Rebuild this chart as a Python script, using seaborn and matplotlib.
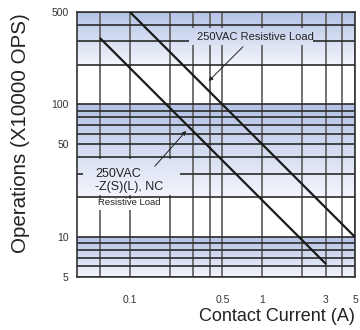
import numpy as np
import pandas as pd
import matplotlib
matplotlib.use('Agg')
import matplotlib.pyplot as plt
from matplotlib.colors import to_rgb
from matplotlib.patches import Rectangle
import seaborn as sns

# 수명 곡선 데이터
current_res = [0.1, 5]          # 250VAC Resistive Load
ops_res = [500, 10]
current_nc = [0.06, 3]          # 250VAC -Z(S)(L), NC Resistive Load
ops_nc = [315, 6.3]

x_ticks = [0.1, 0.5, 1, 3, 5]
x_ticklabels = ['0.1', '0.5', '1', '3', '5']
x_minor = [0.06, 0.2, 0.3, 0.4, 2, 4]
y_ticks = [5, 10, 50, 100, 500]
y_ticklabels = ['5', '10', '50', '100', '500']
y_minor = [6, 7, 8, 9, 20, 30, 40, 60, 70, 80, 90, 200, 300, 400]

# 배경 그라데이션 밴드 (위쪽 값, 아래쪽 값)
bands = [(500, 200), (100, 20), (10, 5)]
band_top = '#b3c2e5'
band_bottom = '#f3f5fb'

df = pd.DataFrame({
    'current': current_res + current_nc,
    'ops': ops_res + ops_nc,
    'series': ['res'] * len(current_res) + ['nc'] * len(current_nc),
})

sns.set_theme(style='white')
plt.rcParams['font.family'] = ['Liberation Sans', 'DejaVu Sans']

fig = plt.figure(figsize=(3.6, 3.3), dpi=100)
ax = fig.add_axes([0.214, 0.161, 0.772, 0.803])
ax.set_xscale('log')
ax.set_yscale('log')
ax.set_xlim(0.04, 5)
ax.set_ylim(5, 500)


def paint_bg(x0, x1, y0, y1, z, n=40):
    # 흰 바탕 + 밴드 그라데이션을 (x0..x1, y0..y1) 영역에 칠함
    ax.add_patch(Rectangle((x0, y0), x1 - x0, y1 - y0, facecolor='white',
                           lw=0, zorder=z))
    c0, c1 = np.array(to_rgb(band_top)), np.array(to_rgb(band_bottom))
    for hi, lo in bands:
        edges = np.geomspace(hi, lo, n + 1)
        for i in range(n):
            a, b = edges[i + 1], edges[i]
            lo2, hi2 = max(a, y0), min(b, y1)
            if lo2 >= hi2:
                continue
            col = c0 + (c1 - c0) * (i + 0.5) / n
            ax.add_patch(Rectangle((x0, lo2), x1 - x0, hi2 - lo2,
                                   facecolor=col, lw=0, zorder=z))


paint_bg(0.04, 5, 5, 500, 0.1)

ax.set_xticks(x_ticks)
ax.set_xticklabels(x_ticklabels)
ax.set_xticks(x_minor, minor=True)
ax.set_yticks(y_ticks)
ax.set_yticklabels(y_ticklabels)
ax.set_yticks(y_minor, minor=True)
ax.set_xticklabels([], minor=True)
ax.set_yticklabels([], minor=True)
ax.tick_params(which='both', length=0)
ax.tick_params(axis='x', pad=13, labelsize=7.5, labelcolor='#333333')
ax.tick_params(axis='y', pad=6, labelsize=7.5, labelcolor='#333333')

ax.set_axisbelow(True)
ax.grid(axis='x', which='both', color='#666666', lw=1.3)
ax.grid(axis='y', which='both', color='#2a2a2a', lw=1.2)
for s in ax.spines.values():
    s.set_color('#333333')
    s.set_linewidth(1.2)

# 텍스트 뒤 그리드 가리기
paint_bg(0.28, 2.4, 282, 379, 1.5)
paint_bg(0.0442, 0.239, 20.8, 38.9, 1.5)
paint_bg(0.0442, 0.18, 16.0, 19.4, 1.5)

sns.lineplot(data=df, x='current', y='ops', hue='series', units='series',
             estimator=None, palette={'res': '#1a1a1a', 'nc': '#1a1a1a'},
             lw=1.6, legend=False, ax=ax, zorder=3)

ax.text(0.88, 324, '250VAC Resistive Load', ha='center', va='center',
        fontsize=8, color='#222222', zorder=4)
ax.annotate('', xy=(0.38, 145), xytext=(0.739, 282),
            arrowprops=dict(arrowstyle='-|>', color='#222222', lw=0.7,
                            mutation_scale=6), zorder=4)

ax.text(0.0547, 26.7, '250VAC\n-Z(S)(L), NC', ha='left', va='center',
        fontsize=9, color='#222222', linespacing=1.15, zorder=4)
ax.text(0.0576, 18.1, 'Resistive Load', ha='left', va='center',
        fontsize=6.8, color='#222222', zorder=4)
ax.annotate('', xy=(0.275, 65.5), xytext=(0.1497, 33),
            arrowprops=dict(arrowstyle='-|>', color='#222222', lw=0.7,
                            mutation_scale=6), zorder=4)

ax.set_xlabel('Contact Current (A)', fontsize=13, color='#222222')
ax.xaxis.set_label_coords(1.0, -0.117)
ax.xaxis.label.set_ha('right')
ax.set_ylabel('Operations (X10000 OPS)', fontsize=14.8, color='#222222')
ax.yaxis.set_label_coords(-0.17, 0.542)

fig.savefig('out.png', dpi=100)
plt.close(fig)
